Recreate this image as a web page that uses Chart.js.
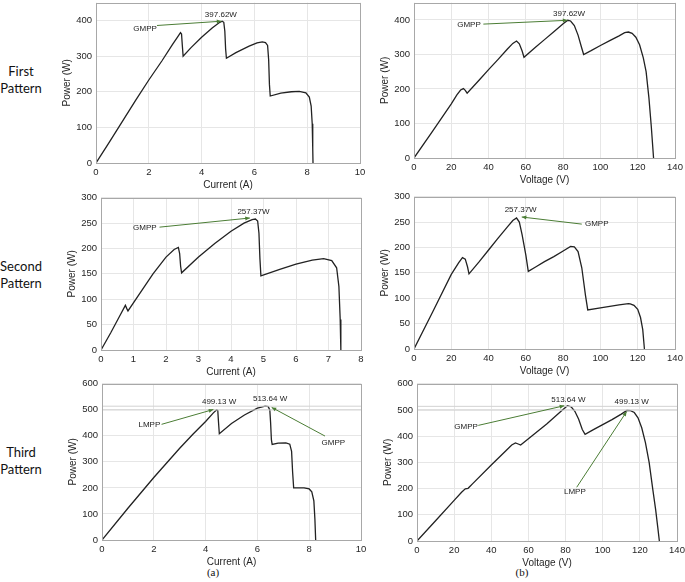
<!DOCTYPE html>
<html lang="en">
<head>
<meta charset="UTF-8">
<title>P-I and P-V curves</title>
<style>
    body { margin: 0; background: #fff; }
    #wrap { position: relative; width: 685px; height: 582px; overflow: hidden; }
    canvas { position: absolute; }
    .row { position: absolute; left: -1px; width: 44px; text-align: center; font-family: Lato, "Open Sans", sans-serif; font-size: 13px; line-height: 17px; color: #111; }
    .sub { position: absolute; width: 30px; text-align: center; font-family: "Liberation Serif", serif; font-size: 11px; color: #111; }
</style>
</head>
<body>
<div id="wrap">
    <div class="row" style="top:63px">First<br>Pattern</div>
    <div class="row" style="top:258px">Second<br>Pattern</div>
    <div class="row" style="top:444px">Third<br>Pattern</div>
    <div class="sub" style="left:198px; top:566px">(a)</div>
    <div class="sub" style="left:507px; top:566px">(b)</div>
    <canvas id="c1"></canvas>
    <canvas id="c2"></canvas>
    <canvas id="c3"></canvas>
    <canvas id="c4"></canvas>
    <canvas id="c5"></canvas>
    <canvas id="c6"></canvas>
</div>

<script src="https://cdn.jsdelivr.net/npm/chart.js"></script>
<script>
    // first pattern
    const current1 = [0, 0.5, 1, 1.5, 2, 2.5, 2.9, 3.1, 3.2, 3.24, 3.27, 3.3, 3.6, 4.0, 4.4, 4.65, 4.78, 4.84, 4.88, 4.91, 4.94, 5.3, 5.8, 6.1, 6.3, 6.42, 6.5, 6.54, 6.57, 6.6, 7.0, 7.4, 7.7, 7.95, 8.08, 8.15, 8.19, 8.21, 8.22];
    const powerI1 = [0, 58, 117, 176, 233, 287, 333, 355, 366, 362, 330, 300, 324, 353, 379, 393, 398, 395, 370, 320, 294, 310, 328, 337, 340, 338, 330, 290, 220, 188, 196, 200, 201, 197, 185, 160, 110, 40, 0];
    const voltage1 = [0, 10, 20, 23, 25, 26.5, 27.5, 28.5, 35, 40, 45, 50, 53, 55, 56.5, 58, 59, 65, 70, 75, 80, 82.5, 84, 86, 88, 90, 91, 95, 100, 105, 110, 113, 115, 117, 119, 121, 123, 124.5, 126, 127.3, 128.5];
    const powerV1 = [0, 78, 157, 183, 197, 201, 196, 188, 226, 256, 285, 315, 332, 339, 331, 310, 292, 320, 343, 366, 389, 399, 397, 384, 356, 318, 300, 311, 326, 340, 354, 363, 365, 361, 350, 328, 290, 250, 175, 90, 0];

    // second pattern
    const current2 = [0, 0.3, 0.6, 0.75, 0.79, 0.83, 1.2, 1.6, 2.0, 2.25, 2.38, 2.42, 2.45, 2.48, 3.0, 3.5, 4.0, 4.4, 4.65, 4.75, 4.82, 4.86, 4.89, 4.92, 5.5, 6.0, 6.5, 6.85, 7.1, 7.25, 7.32, 7.36, 7.38];
    const powerI2 = [0, 34, 70, 88, 82, 77, 112, 150, 183, 198, 202, 190, 165, 152, 183, 210, 234, 250, 257, 258, 254, 230, 180, 146, 159, 169, 177, 180, 176, 162, 125, 60, 0];
    const voltage2 = [0, 10, 20, 24, 26, 27.5, 28.7, 29.5, 35, 40, 45, 50, 53, 55, 56.5, 58, 60, 61.3, 65, 70, 75, 80, 84, 86, 88, 90, 92, 93.2, 100, 105, 110, 115, 116, 118, 120, 121.5, 122.7, 123.6];
    const powerV2 = [0, 73, 147, 170, 180, 177, 162, 148, 172, 195, 218, 240, 253, 258, 250, 225, 185, 153, 161, 172, 182, 193, 202, 201, 192, 160, 105, 77, 81, 84, 87, 89.5, 89, 86, 78, 62, 38, 0];

    // third pattern
    const current3 = [0, 1, 2, 3, 3.5, 4.0, 4.3, 4.42, 4.47, 4.5, 4.53, 5.0, 5.5, 6.0, 6.3, 6.42, 6.48, 6.51, 6.54, 6.57, 6.8, 7.1, 7.25, 7.32, 7.36, 7.4, 7.8, 8.0, 8.1, 8.18, 8.22, 8.25];
    const powerI3 = [0, 122, 240, 352, 405, 455, 488, 499, 497, 450, 408, 447, 480, 506, 514, 512, 498, 450, 385, 367, 372, 373, 368, 340, 260, 200, 200, 196, 185, 150, 80, 0];
    const voltage3 = [0, 10, 20, 24, 26, 27.5, 30, 40, 48, 51, 53, 54.5, 55.8, 60, 70, 78, 81, 83, 85, 87, 89, 90.5, 95, 100, 105, 110, 113, 115, 117, 119, 121, 123, 125, 127, 128.5, 129.6, 130.5];
    const powerV3 = [0, 77, 155, 186, 199, 201, 219, 290, 345, 366, 374, 370, 366, 390, 447, 498, 516, 512, 495, 465, 425, 407, 425, 444, 463, 484, 498, 497, 490, 470, 432, 375, 300, 195, 120, 55, 0];
    const gmpp3 = 513.64;
    const lmpp3 = 499.13;

    // tick labels
    const currentTicks10 = [0, 2, 4, 6, 8, 10];
    const currentTicks8 = [0, 1, 2, 3, 4, 5, 6, 7, 8];
    const voltageTicks = [0, 20, 40, 60, 80, 100, 120, 140];
    const powerTicks400 = [0, 100, 200, 300, 400];
    const powerTicks300 = [0, 50, 100, 150, 200, 250, 300];
    const powerTicks600 = [0, 100, 200, 300, 400, 500, 600];

    const green = '#4b7d35';
    const textColor = '#262626';
    const Y_W = 35, X_H = 31, PAD_T = 8, PAD_R = 12;

    // draws the green arrows and their texts, in data units
    const notePlugin = {
        id: 'notes',
        afterDatasetsDraw(chart, args, opts) {
            const { ctx } = chart;
            const sx = chart.scales.x, sy = chart.scales.y;
            ctx.save();
            (opts.arrows || []).forEach(a => {
                const x1 = sx.getPixelForValue(a.from[0]), y1 = sy.getPixelForValue(a.from[1]);
                const x2 = sx.getPixelForValue(a.to[0]), y2 = sy.getPixelForValue(a.to[1]);
                ctx.strokeStyle = green;
                ctx.fillStyle = green;
                ctx.lineWidth = 1;
                ctx.beginPath();
                ctx.moveTo(x1, y1);
                ctx.lineTo(x2, y2);
                ctx.stroke();
                const ang = Math.atan2(y2 - y1, x2 - x1);
                ctx.beginPath();
                ctx.moveTo(x2, y2);
                ctx.lineTo(x2 - 5 * Math.cos(ang - 0.4), y2 - 5 * Math.sin(ang - 0.4));
                ctx.lineTo(x2 - 5 * Math.cos(ang + 0.4), y2 - 5 * Math.sin(ang + 0.4));
                ctx.closePath();
                ctx.fill();
            });
            ctx.fillStyle = '#222';
            ctx.font = '8px "Liberation Sans", Arial, sans-serif';
            ctx.textAlign = 'center';
            ctx.textBaseline = 'middle';
            (opts.labels || []).forEach(l => {
                ctx.fillText(l.text, sx.getPixelForValue(l.at[0]), sy.getPixelForValue(l.at[1]));
            });
            ctx.restore();
        },
        afterDraw(chart) {
            const { ctx, chartArea: a } = chart;
            ctx.save();
            ctx.strokeStyle = '#a8a8a8';
            ctx.lineWidth = 1;
            ctx.strokeRect(Math.round(a.left) + 0.5, Math.round(a.top) + 0.5, Math.round(a.right - a.left), Math.round(a.bottom - a.top));
            ctx.restore();
        }
    };

    const makePoints = (xs, ys) => xs.map((v, i) => ({ x: v, y: ys[i] }));

    const createChart = (p) => {
        const [L, T, R, B] = p.rect;
        const canvas = document.getElementById(p.id);
        canvas.width = (R - L) + Y_W + PAD_R;
        canvas.height = (B - T) + PAD_T + X_H;
        canvas.style.left = (L - Y_W) + 'px';
        canvas.style.top = (T - PAD_T) + 'px';

        const datasets = [];
        (p.hlines || []).forEach(v => {
            datasets.push({
                data: [{ x: 0, y: v }, { x: p.xMax, y: v }],
                borderColor: '#d2d2d2',
                borderWidth: 1,
                pointRadius: 0,
                showLine: true
            });
        });
        datasets.push({
            data: makePoints(p.xs, p.ys),
            borderColor: '#222',
            borderWidth: 1.3,
            pointRadius: 0,
            showLine: true,
            tension: 0
        });

        new Chart(canvas.getContext('2d'), {
            type: 'scatter',
            data: { datasets: datasets },
            options: {
                responsive: false,
                animation: false,
                layout: { padding: { top: PAD_T, right: PAD_R, left: 0, bottom: 0 } },
                plugins: {
                    legend: { display: false },
                    tooltip: { enabled: false },
                    notes: { labels: p.labels, arrows: p.arrows }
                },
                scales: {
                    x: {
                        type: 'linear',
                        min: 0,
                        max: p.xMax,
                        afterBuildTicks: s => { s.ticks = p.xTicks.map(v => ({ value: v })); },
                        afterFit: s => { s.height = X_H; },
                        grid: { color: '#e6e6e6', drawTicks: false },
                        border: { display: false },
                        ticks: { padding: 4, color: textColor, font: { size: 9.5, family: '"Liberation Sans", Arial' }, maxRotation: 0, autoSkip: false },
                        title: { display: true, text: p.xTitle, color: textColor, font: { size: 10, family: '"Liberation Sans", Arial' }, padding: { top: 0, bottom: 3 } }
                    },
                    y: {
                        type: 'linear',
                        min: 0,
                        max: p.yMax,
                        afterBuildTicks: s => { s.ticks = p.yTicks.map(v => ({ value: v })); },
                        afterFit: s => { s.width = Y_W; },
                        grid: { color: '#e6e6e6', drawTicks: false },
                        border: { display: false },
                        ticks: { padding: 4, color: textColor, font: { size: 9.5, family: '"Liberation Sans", Arial' }, autoSkip: false },
                        title: { display: true, text: 'Power (W)', color: textColor, font: { size: 10, family: '"Liberation Sans", Arial' }, padding: { top: 0, bottom: 0 } }
                    }
                }
            },
            plugins: [notePlugin]
        });
    };

    const panels = [
        {
            id: 'c1', rect: [96, 1, 360, 163], xMax: 10, yMax: 450, xTicks: currentTicks10, yTicks: powerTicks400,
            xTitle: 'Current (A)', xs: current1, ys: powerI1,
            labels: [{ text: '397.62W', at: [4.73, 417] }, { text: 'GMPP', at: [1.86, 378] }],
            arrows: [{ from: [2.31, 386], to: [4.75, 398] }]
        },
        {
            id: 'c2', rect: [414, 1, 675, 158], xMax: 140, yMax: 450, xTicks: voltageTicks, yTicks: powerTicks400,
            xTitle: 'Voltage (V)', xs: voltage1, ys: powerV1,
            labels: [{ text: '397.62W', at: [83.2, 419] }, { text: 'GMPP', at: [29.5, 385] }],
            arrows: [{ from: [37.2, 388], to: [82.3, 399] }]
        },
        {
            id: 'c3', rect: [101, 196, 361, 350], xMax: 8, yMax: 300, xTicks: currentTicks8, yTicks: powerTicks300,
            xTitle: 'Current (A)', xs: current2, ys: powerI2,
            labels: [{ text: '257.37W', at: [4.69, 272.5] }, { text: 'GMPP', at: [1.35, 240] }],
            arrows: [{ from: [1.8, 242], to: [4.58, 260] }]
        },
        {
            id: 'c4', rect: [414, 195, 675, 349], xMax: 140, yMax: 300, xTicks: voltageTicks, yTicks: powerTicks300,
            xTitle: 'Voltage (V)', xs: voltage2, ys: powerV2,
            labels: [{ text: '257.37W', at: [57.2, 274] }, { text: 'GMPP', at: [98, 246] }],
            arrows: [{ from: [90, 246], to: [57.8, 260] }]
        },
        {
            id: 'c5', rect: [102, 382, 361, 540], xMax: 10, yMax: 600, xTicks: currentTicks10, yTicks: powerTicks600,
            xTitle: 'Current (A)', xs: current3, ys: powerI3, hlines: [lmpp3, gmpp3],
            labels: [{ text: '499.13 W', at: [4.52, 529] }, { text: 'LMPP', at: [1.83, 444] },
                     { text: '513.64 W', at: [6.49, 541] }, { text: 'GMPP', at: [8.93, 371.5] }],
            arrows: [{ from: [2.3, 444], to: [4.3, 501] }, { from: [8.61, 399], to: [6.55, 509] }]
        },
        {
            id: 'c6', rect: [417, 382, 677, 541], xMax: 140, yMax: 600, xTicks: voltageTicks, yTicks: powerTicks600,
            xTitle: 'Voltage (V)', xs: voltage3, ys: powerV3, hlines: [lmpp3, gmpp3],
            labels: [{ text: '513.64 W', at: [81.5, 538] }, { text: 'GMPP', at: [26.4, 437] },
                     { text: '499.13 W', at: [115.6, 531] }, { text: 'LMPP', at: [85, 186] }],
            arrows: [{ from: [33, 441], to: [79.3, 516] }, { from: [86, 205], to: [112.9, 494] }]
        }
    ];

    panels.forEach(createChart);
</script>
</body>
</html>
